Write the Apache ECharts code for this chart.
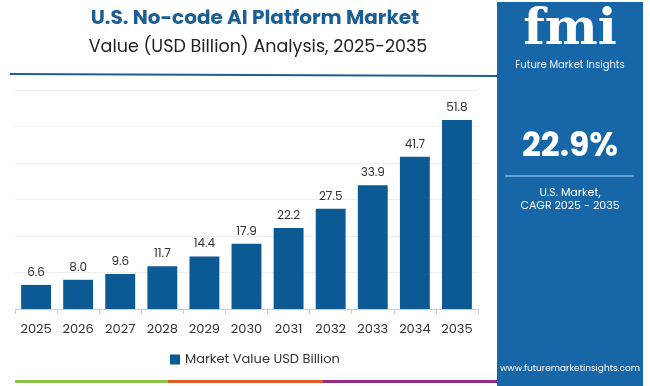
<!DOCTYPE html>
<html>
<head>
<meta charset="utf-8">
<script src="https://cdn.jsdelivr.net/npm/echarts@6/dist/echarts.min.js"></script>
<style>html,body{margin:0;padding:0;background:#fff}#c{width:650px;height:386px}</style>
</head>
<body>
<div id="c"></div>
<script>
const categories = ['2025','2026','2027','2028','2029','2030','2031','2032','2033','2034','2035'];
const marketValues = [6.6, 8.0, 9.6, 11.7, 14.4, 17.9, 22.2, 27.5, 33.9, 41.7, 51.8];
const seriesName = 'Market Value USD Billion';
const cagrText = '22.9%';

const chart = echarts.init(document.getElementById('c'));
const F = 'Poppins, "Open Sans", Lato, sans-serif';
chart.setOption({
  animation: false,
  title: [
    { text: 'U.S. No-code AI Platform Market', left: 250, textAlign: 'center', top: 4,
      textStyle: { fontFamily: F, fontSize: 20, fontWeight: 'bold', color: '#1a5e94' } },
    { text: 'Value (USD Billion) Analysis, 2025-2035', left: 253, textAlign: 'center', top: 34,
      textStyle: { fontFamily: F, fontSize: 17.5, fontWeight: 'normal', color: '#222' } }
  ],
  grid: { left: 15, right: 172, top: 90, bottom: 77, containLabel: false },
  legend: { data: [seriesName], left: 165, top: 348, itemWidth: 10, itemHeight: 10, itemGap: 6,
    icon: 'rect', textStyle: { fontFamily: F, fontSize: 13, color: '#333' } },
  xAxis: { type: 'category', data: categories,
    axisLine: { lineStyle: { color: '#ccc' } },
    axisTick: { show: true, lineStyle: { color: '#ccc' }, length: 5 },
    axisLabel: { fontFamily: F, fontSize: 13, color: '#333', margin: 14 } },
  yAxis: { type: 'value', min: 0, max: 60, interval: 10,
    axisLabel: { show: false }, axisLine: { show: false }, axisTick: { show: false },
    splitLine: { lineStyle: { color: '#eeeeee' } } },
  series: [{ name: seriesName, type: 'bar', data: marketValues, barWidth: '71%',
    itemStyle: { color: '#0b5a93' },
    label: { show: true, position: 'top', distance: 6, fontFamily: F, fontSize: 12, color: '#333',
      formatter: p => p.value.toFixed(1) } }],
  graphic: [
    { type: 'line', shape: { x1: 10, y1: 74, x2: 497, y2: 76 }, style: { stroke: '#1d5f94', lineWidth: 2 } },
    { type: 'rect', shape: { x: 15, y: 380, width: 153, height: 3 }, style: { fill: '#8bc34a' } },
    { type: 'rect', shape: { x: 168, y: 380, width: 155, height: 3 }, style: { fill: '#e05a28' } },
    { type: 'rect', shape: { x: 323, y: 380, width: 174, height: 3 }, style: { fill: '#8e2d8e' } },
    { type: 'rect', shape: { x: 497, y: 2, width: 146, height: 384 }, style: { fill: '#1666a8' } },
    { type: 'text', x: 570, y: 6, style: { text: 'fmi', textAlign: 'center',
      fontFamily: '"DejaVu Serif", serif', fontSize: 50, fontWeight: 'bold', fill: '#fff' } },
    { type: 'text', x: 570, y: 60, style: { text: 'Future Market Insights', textAlign: 'center',
      fontFamily: F, fontSize: 10, fill: '#e8f0f8' } },
    { type: 'text', x: 570, y: 131, style: { text: cagrText, textAlign: 'center',
      fontFamily: F, fontSize: 33, fontWeight: 'bold', fill: '#fff' } },
    { type: 'line', shape: { x1: 505, y1: 176, x2: 634, y2: 176 }, style: { stroke: '#7fb8e6', lineWidth: 1.5 } },
    { type: 'text', x: 570, y: 188, style: { text: 'U.S. Market,', textAlign: 'center',
      fontFamily: F, fontSize: 11, fill: '#fff' } },
    { type: 'text', x: 570, y: 201, style: { text: 'CAGR 2025 - 2035', textAlign: 'center',
      fontFamily: F, fontSize: 11, fill: '#fff' } },
    { type: 'text', x: 570, y: 364, style: { text: 'www.futuremarketinsights.com', textAlign: 'center',
      fontFamily: F, fontSize: 9, fill: '#fff' } }
  ]
});
</script>
</body>
</html>
